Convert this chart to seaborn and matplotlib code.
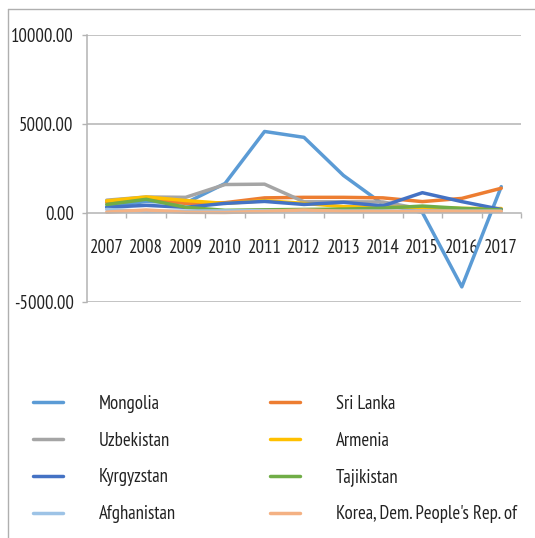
import pandas as pd
import matplotlib.pyplot as plt
import seaborn as sns
from matplotlib.lines import Line2D

years = list(range(2007, 2018))
countries = ['Mongolia', 'Sri Lanka', 'Uzbekistan', 'Armenia',
             'Kyrgyzstan', 'Tajikistan', 'Afghanistan', "Korea, Dem. People's Rep. of"]
colors = ['#5B9BD5', '#ED7D31', '#A5A5A5', '#FFC000',
          '#4472C4', '#70AD47', '#9DC3E6', '#F4B183']

mongolia    = [350, 650, 560, 1660, 4580, 4250, 2110, 500, 30, -4150, 1480]
sri_lanka   = [600, 820, 540, 580, 850, 880, 880, 850, 640, 820, 1390]
uzbekistan  = [720, 900, 880, 1600, 1620, 630, 630, 620, 220, 180, 150]
armenia     = [680, 900, 700, 540, 690, 540, 360, 320, 320, 260, 250]
kyrgyzstan  = [320, 430, 320, 540, 650, 480, 600, 400, 1140, 640, 200]
tajikistan  = [480, 770, 320, 150, 180, 200, 220, 270, 390, 260, 170]
afghanistan = [200, 90, 110, 120, 130, 120, 110, 110, 100, 100, 100]
korea       = [50, 170, 40, 30, 90, 170, 90, 90, 90, 90, 90]

series = [mongolia, sri_lanka, uzbekistan, armenia, kyrgyzstan, tajikistan, afghanistan, korea]

# long form table for seaborn
rows = []
for name, vals in zip(countries, series):
    for y, v in zip(years, vals):
        rows.append({'year': y, 'country': name, 'value': v})
df = pd.DataFrame(rows)

sns.set_style('white')
plt.rcParams['font.family'] = ['PT Sans Narrow', 'DejaVu Sans']

fig = plt.figure(figsize=(5.35, 5.38), dpi=100)
ax = fig.add_axes([87 / 535, 1 - 302 / 538, 434 / 535, 267 / 538])

sns.lineplot(data=df, x='year', y='value', hue='country', hue_order=countries,
             palette=colors, linewidth=2.5, legend=False, ax=ax)

grid_c = '#B3B3B3'
txt_c = '#222222'
ax.set_xlim(2006.5, 2017.5)
ax.set_ylim(-5000, 10000)
ax.set_yticks([-5000, 0, 5000, 10000])
ax.set_yticklabels(['%.2f' % t for t in [-5000, 0, 5000, 10000]])
for t in [-5000, 5000, 10000]:
    ax.axhline(t, color=grid_c, lw=1.1, zorder=0)
ax.tick_params(axis='y', length=3.6, width=1, color=grid_c, pad=6,
               labelsize=13.5, labelcolor=txt_c, left=True)

# category axis crossing at zero, ticks between categories
ax.spines['bottom'].set_position(('data', 0))
ax.spines['bottom'].set_color(grid_c)
ax.spines['bottom'].set_linewidth(1.1)
ax.set_xticks([y + 0.5 for y in years])
ax.set_xticklabels([])
ax.set_xticks(years, minor=True)
ax.set_xticklabels([str(y) for y in years], minor=True)
ax.tick_params(axis='x', which='major', direction='out', length=3.6, width=1,
               color=grid_c, bottom=True)
ax.tick_params(axis='x', which='minor', length=0, pad=18.5, labelsize=13.5,
               labelcolor=txt_c)
for s in ['top', 'right']:
    ax.spines[s].set_visible(False)
ax.spines['left'].set_color(grid_c)
ax.spines['left'].set_linewidth(1.1)
ax.set_xlabel('')
ax.set_ylabel('')

# figure border (left and top edges visible)
fig.add_artist(Line2D([8 / 535, 8 / 535], [-0.01, 1 - 9 / 538], transform=fig.transFigure,
                      color='#AFAFAF', lw=1))
fig.add_artist(Line2D([8 / 535, 1.01], [1 - 9 / 538, 1 - 9 / 538], transform=fig.transFigure,
                      color='#AFAFAF', lw=1))

# legend in two columns
handles = [Line2D([0], [0], color=c, lw=2.5) for c in colors]
leg_kw = dict(frameon=False, fontsize=13.5, handlelength=1.6, handletextpad=1.9,
              labelspacing=1.0, borderaxespad=0, borderpad=0, loc='upper left',
              labelcolor=txt_c)
leg1 = fig.legend(handles[0::2], countries[0::2],
                  bbox_to_anchor=(33 / 535, 1 - 395 / 538), **leg_kw)
leg2 = fig.legend(handles[1::2], countries[1::2],
                  bbox_to_anchor=(270 / 535, 1 - 395 / 538), **leg_kw)

fig.savefig('out.png', dpi=100)
